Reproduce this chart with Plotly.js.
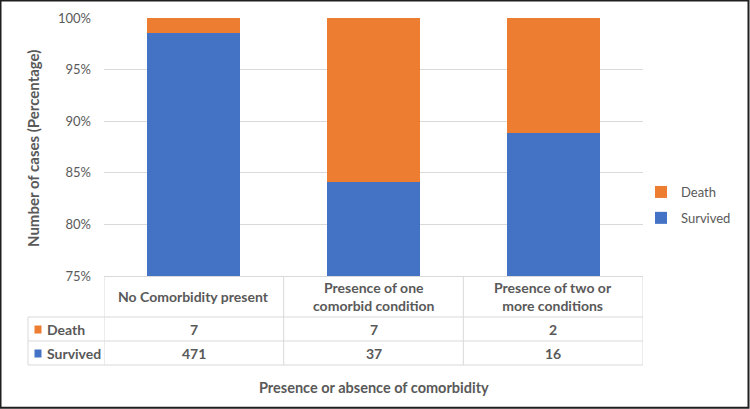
<!DOCTYPE html>
<html>
<head>
<meta charset="utf-8">
<script src="https://cdn.plot.ly/plotly-3.0.1.min.js"></script>
<style>
  html, body { margin: 0; padding: 0; background: #fff; }
  #chart { width: 750px; height: 409px; }
</style>
</head>
<body>
<div id="chart"></div>
<script>
// ---- data ----
const categories = ["No Comorbidity present", "Presence of one comorbid condition", "Presence of two or more conditions"];
const headerLabels = ["No Comorbidity present", "Presence of one<br>comorbid condition", "Presence of two or<br>more conditions"];
const seriesNames = ["Survived", "Death"];
const survived = [471, 37, 16];
const death = [7, 7, 2];
const yTitle = "Number of cases (Percentage)";
const xTitle = "Presence or absence of comorbidity";

// ---- style ----
const BLUE = "#4472C4", ORANGE = "#ED7D31", TXT = "#595959", GRID = "#D9D9D9";
const FONT = "Lato, 'Open Sans', sans-serif";

// plot area pixels
const W = 750, H = 409, L = 104, R = 643, T = 18, B = 276;
const pw = R - L, ph = B - T;
const px = x => (x - L) / pw;          // pixel x -> paper x
const py = y => (B - y) / ph;          // pixel y -> paper y

const traces = [
  { type: "bar", name: seriesNames[0], x: categories, y: survived, marker: { color: BLUE },
    legendgroup: "s", legendrank: 2, hoverinfo: "skip" },
  { type: "bar", name: seriesNames[1], x: categories, y: death, marker: { color: ORANGE },
    legendgroup: "d", legendrank: 1, hoverinfo: "skip" }
];

const shapes = [];
const annotations = [];
const lineStyle = { color: GRID, width: 1 };
const TF = 14;

// table grid
const rowLinesPx = [317, 341, 365];
rowLinesPx.forEach(yp => {
  shapes.push({ type: "line", xref: "paper", yref: "paper", x0: px(28), x1: 1, y0: py(yp), y1: py(yp), line: lineStyle });
});
shapes.push({ type: "line", xref: "paper", yref: "paper", x0: px(28), x1: px(28), y0: py(317), y1: py(365), line: lineStyle });
for (let i = 0; i <= categories.length; i++) {
  shapes.push({ type: "line", xref: "x", yref: "paper", x0: i - 0.5, x1: i - 0.5, y0: 0, y1: py(365), line: lineStyle });
}

// header + values
categories.forEach((c, i) => {
  annotations.push({ xref: "x", yref: "paper", x: i, y: py(296.5), text: "<b>" + headerLabels[i] + "</b>",
    showarrow: false, font: { family: FONT, size: TF, color: TXT }, yanchor: "middle" });
  annotations.push({ xref: "x", yref: "paper", x: i, y: py(329.5), text: "<b>" + death[i] + "</b>",
    showarrow: false, font: { family: FONT, size: TF, color: TXT }, yanchor: "middle" });
  annotations.push({ xref: "x", yref: "paper", x: i, y: py(353.5), text: "<b>" + survived[i] + "</b>",
    showarrow: false, font: { family: FONT, size: TF, color: TXT }, yanchor: "middle" });
});

// row labels with keys
[[seriesNames[1], ORANGE, 329.5], [seriesNames[0], BLUE, 353.5]].forEach(([name, col, yc]) => {
  shapes.push({ type: "rect", xref: "paper", yref: "paper", x0: px(34.5), x1: px(41.5), y0: py(yc - 4), y1: py(yc + 4),
    fillcolor: col, line: { width: 0 } });
  annotations.push({ xref: "paper", yref: "paper", x: px(45), y: py(yc), text: "<b>" + name + "</b>",
    showarrow: false, xanchor: "left", yanchor: "middle", font: { family: FONT, size: TF, color: TXT } });
});

// titles
annotations.push({ xref: "paper", yref: "paper", x: 0.5, y: py(388), text: "<b>" + xTitle + "</b>",
  showarrow: false, yanchor: "middle", font: { family: FONT, size: 14.5, color: TXT } });
annotations.push({ xref: "paper", yref: "paper", x: px(33), y: py(149), text: "<b>" + yTitle + "</b>",
  showarrow: false, textangle: -90, xanchor: "center", yanchor: "middle", font: { family: FONT, size: 15, color: TXT } });

// outer border
shapes.push({ type: "rect", xref: "paper", yref: "paper", x0: px(0.5), x1: px(748.5), y0: py(407.8), y1: py(0.5),
  line: { color: "#1f1f1f", width: 2 }, fillcolor: "rgba(0,0,0,0)" });

const layout = {
  width: W, height: H,
  margin: { l: L, r: W - R, t: T, b: H - B },
  paper_bgcolor: "#fff", plot_bgcolor: "#fff",
  barmode: "stack", barnorm: "fraction", bargap: 0.484,
  font: { family: FONT, color: TXT, size: 13 },
  xaxis: { type: "category", showticklabels: false, ticks: "", showgrid: false, zeroline: false,
    showline: true, linecolor: GRID, linewidth: 1, range: [-0.5, 2.5], fixedrange: true },
  yaxis: { range: [0.75, 1], tickvals: [0.75, 0.8, 0.85, 0.9, 0.95, 1], tickformat: ".0%",
    showgrid: true, gridcolor: GRID, gridwidth: 1, zeroline: false, showline: false, ticks: "",
    ticklabelstandoff: 12, tickfont: { family: FONT, size: 13, color: TXT }, fixedrange: true },
  showlegend: true,
  legend: { x: px(641), y: py(177), xanchor: "left", yanchor: "top", traceorder: "grouped",
    itemwidth: 30, tracegroupgap: 6, font: { family: FONT, size: 13, color: TXT }, bgcolor: "rgba(0,0,0,0)" },
  shapes: shapes,
  annotations: annotations
};

Plotly.newPlot("chart", traces, layout, { displayModeBar: false, staticPlot: true });
</script>
</body>
</html>
